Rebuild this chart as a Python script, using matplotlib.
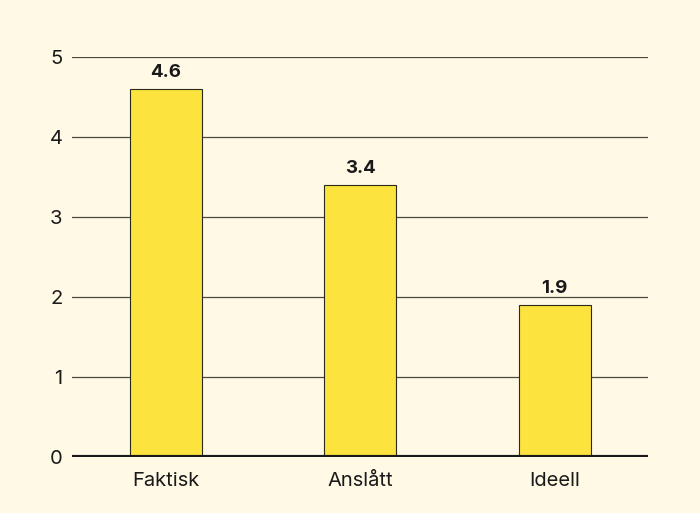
import matplotlib
matplotlib.use("Agg")
import matplotlib.pyplot as plt

categories = ["Faktisk", "Anslått", "Ideell"]
values = [4.6, 3.4, 1.9]
yticks = [0, 1, 2, 3, 4, 5]

plt.rcParams['font.family'] = ['Inter', 'DejaVu Sans']

bg = "#FFF9E6"
fig = plt.figure(figsize=(7, 5.13), dpi=100, facecolor=bg)
ax = fig.add_axes([0.103, 0.109, 0.823, 0.780], facecolor=bg)

x = list(range(len(categories)))
ax.bar(x, values, width=0.37, color="#FCE33E", edgecolor="#2a2a1a", linewidth=0.8, zorder=3)
for xi, v in zip(x, values):
    ax.text(xi, v + 0.1, f"{v}", ha="center", va="bottom", fontsize=13.5, fontweight="bold", color="#1a1a1a", zorder=4)

ax.set_xlim(-0.48, 2.48)
ax.set_ylim(0, 5)
ax.set_yticks(yticks)
ax.set_yticklabels([str(t) for t in yticks])
ax.set_xticks(x)
ax.set_xticklabels(categories)
ax.grid(axis="y", color="#4a4a40", linewidth=0.9, zorder=0)
ax.axhline(0, color="#1a1a1a", linewidth=3, zorder=5)
for s in ax.spines.values():
    s.set_visible(False)
ax.tick_params(axis="both", length=0, labelsize=14.5, colors="#1a1a1a")
ax.tick_params(axis="y", pad=7)
ax.tick_params(axis="x", pad=11)

fig.savefig("out.png", dpi=100, facecolor=bg)
